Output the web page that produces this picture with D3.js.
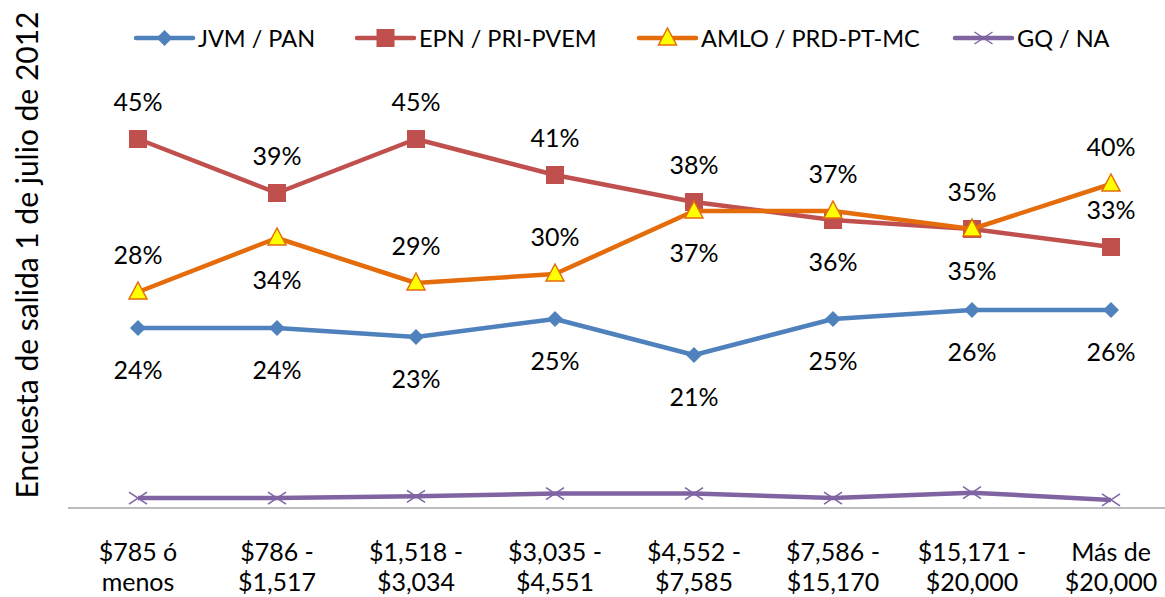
<!DOCTYPE html>
<html>
<head>
<meta charset="utf-8">
<script src="https://cdn.jsdelivr.net/npm/d3@7"></script>
<style>
  body { margin: 0; background: #fff; }
  text { font-family: Lato, "Open Sans", sans-serif; fill: #000; }
</style>
</head>
<body>
<div id="chart"></div>
<script>
// categories (income brackets)
var categories = [
    ["$785 ó", "menos"],
    ["$786 -", "$1,517"],
    ["$1,518 -", "$3,034"],
    ["$3,035 -", "$4,551"],
    ["$4,552 -", "$7,585"],
    ["$7,586 -", "$15,170"],
    ["$15,171 -", "$20,000"],
    ["Más de", "$20,000"]
];

var jvm = [24, 24, 23, 25, 21, 25, 26, 26];
var epn = [45, 39, 45, 41, 38, 36, 35, 33];
var amlo = [28, 34, 29, 30, 37, 37, 35, 40];
var gq = [5.1, 5.1, 5.3, 5.6, 5.6, 5.1, 5.7, 4.9];

// label placement: 1 = above, -1 = below
var jvmPos = [-1, -1, -1, -1, -1, -1, -1, -1];
var epnPos = [1, 1, 1, 1, 1, -1, 1, 1];
var amloPos = [1, -1, 1, 1, -1, 1, -1, 1];

var svgWidth = 1165;
var svgHeight = 597;
var fontSize = "25px";

var svg = d3.select("#chart")
    .append("svg")
    .attr("width", svgWidth)
    .attr("height", svgHeight);

var xScale = d3.scaleBand()
    .domain(d3.range(categories.length))
    .range([68.5, 1180.5]);

var xc = i => xScale(i) + xScale.bandwidth() / 2;

var yScale = d3.scaleLinear()
    .domain([4, 50])
    .range([508, 94]);

// x axis line
svg.append("line")
    .attr("x1", 68).attr("x2", svgWidth)
    .attr("y1", 508).attr("y2", 508)
    .attr("stroke", "#a6a6a6")
    .attr("stroke-width", 1.5);

// x axis labels
categories.forEach(function(c, i) {
    var t = svg.append("text")
        .attr("text-anchor", "middle")
        .style("font-size", fontSize);
    t.append("tspan").attr("x", xc(i)).attr("y", 561).text(c[0]);
    t.append("tspan").attr("x", xc(i)).attr("y", 591).text(c[1]);
});

// y axis title
svg.append("text")
    .attr("transform", "translate(38, 255) rotate(-90)")
    .attr("text-anchor", "middle")
    .style("font-size", "30px")
    .text("Encuesta de salida 1 de julio de 2012");

var line = d3.line()
    .x((d, i) => xc(i))
    .y(d => yScale(d));

var series = [
    { name: "JVM / PAN", values: jvm, color: "#4F81BD", marker: "diamond", pos: jvmPos },
    { name: "EPN / PRI-PVEM", values: epn, color: "#C0504D", marker: "square", pos: epnPos },
    { name: "AMLO / PRD-PT-MC", values: amlo, color: "#E46C0A", marker: "triangle", pos: amloPos },
    { name: "GQ / NA", values: gq, color: "#8064A2", marker: "cross", pos: null }
];

function drawMarker(g, type, x, y, color) {
    if (type === "diamond") {
        g.append("path")
            .attr("d", `M${x},${y - 8}L${x + 8},${y}L${x},${y + 8}L${x - 8},${y}Z`)
            .attr("fill", color);
    } else if (type === "square") {
        g.append("rect")
            .attr("x", x - 9).attr("y", y - 9)
            .attr("width", 18).attr("height", 18)
            .attr("fill", color);
    } else if (type === "triangle") {
        g.append("path")
            .attr("d", `M${x},${y - 10}L${x + 9},${y + 7}L${x - 9},${y + 7}Z`)
            .attr("fill", "#FFFF00")
            .attr("stroke", color)
            .attr("stroke-width", 1.5);
    } else {
        g.append("path")
            .attr("d", `M${x - 9},${y - 6}L${x + 9},${y + 6}M${x - 9},${y + 6}L${x + 9},${y - 6}`)
            .attr("stroke", color)
            .attr("stroke-width", 1.5)
            .attr("fill", "none");
    }
}

// draw order: GQ, JVM, EPN, AMLO on top
[3, 0, 1, 2].forEach(function(k) {
    var s = series[k];
    var g = svg.append("g");
    g.append("path")
        .datum(s.values)
        .attr("d", line)
        .attr("fill", "none")
        .attr("stroke", s.color)
        .attr("stroke-width", 4.5)
        .attr("stroke-linejoin", "round");
    s.values.forEach(function(v, i) {
        drawMarker(g, s.marker, xc(i), yScale(v), s.color);
    });
});

// data labels
series.forEach(function(s) {
    if (!s.pos) return;
    s.values.forEach(function(v, i) {
        var up = s.pos[i] === 1;
        svg.append("text")
            .attr("x", xc(i))
            .attr("y", yScale(v) + (up ? -38 : 41))
            .attr("text-anchor", "middle")
            .attr("dominant-baseline", "central")
            .style("font-size", fontSize)
            .text(v + "%");
    });
});

// legend
var legendX = [136, 357, 639, 955];
series.forEach(function(s, k) {
    var g = svg.append("g");
    var x0 = legendX[k];
    g.append("line")
        .attr("x1", x0).attr("x2", x0 + 57)
        .attr("y1", 38).attr("y2", 38)
        .attr("stroke", s.color)
        .attr("stroke-width", 4.5)
        .attr("stroke-linecap", "round");
    drawMarker(g, s.marker, x0 + 28.5, 38, s.color);
    g.append("text")
        .attr("x", x0 + 62)
        .attr("y", 38)
        .attr("dominant-baseline", "central")
        .style("font-size", "23.5px")
        .text(s.name);
});
</script>
</body>
</html>
